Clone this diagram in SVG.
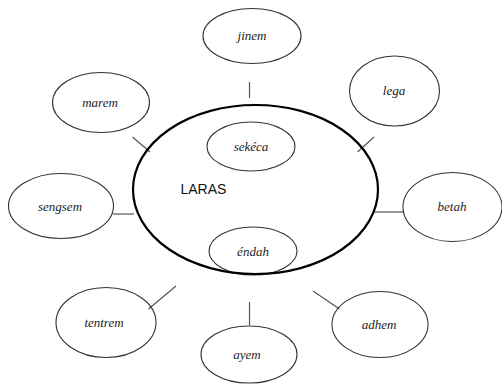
<svg xmlns="http://www.w3.org/2000/svg" width="502" height="385" viewBox="0 0 502 385">
<style>
.n{fill:none;stroke:#333;stroke-width:1.1}
.c{stroke:#555;stroke-width:1.2;fill:none}
.t{font-family:"Liberation Serif",serif;font-style:italic;font-size:13px;fill:#222;text-anchor:middle}
.big{fill:none;stroke:#000;stroke-width:2.2}
.lbl{font-family:"Liberation Sans",Arial,sans-serif;font-size:14px;fill:#111}
</style>
<rect width="502" height="385" fill="#fff"/>
<g id="connectors">
<line class="c" x1="249.5" y1="82" x2="249.5" y2="98"/>
<line class="c" x1="357.5" y1="152" x2="374" y2="137"/>
<line class="c" x1="132.5" y1="137" x2="150" y2="152"/>
<line class="c" x1="113" y1="214" x2="134" y2="214"/>
<line class="c" x1="374" y1="212" x2="404" y2="212"/>
<line class="c" x1="313" y1="291" x2="339.5" y2="309"/>
<line class="c" x1="176" y1="286" x2="148.5" y2="309"/>
<line class="c" x1="249.5" y1="302" x2="249.5" y2="325"/>
</g>
<g id="jinem"><ellipse class="n" cx="252" cy="36" rx="49" ry="27.5"/><text class="t" x="252" y="40">jinem</text></g>
<g id="lega"><ellipse class="n" cx="394.5" cy="91" rx="45" ry="35"/><text class="t" x="394" y="95">lega</text></g>
<g id="marem"><ellipse class="n" cx="101" cy="102.5" rx="48.5" ry="30"/><text class="t" x="100" y="106.5">marem</text></g>
<g id="sengsem"><ellipse class="n" cx="61" cy="206" rx="52.5" ry="32.5"/><text class="t" x="60" y="211">sengsem</text></g>
<g id="betah"><ellipse class="n" cx="452.5" cy="207" rx="49.5" ry="34.5"/><text class="t" x="452" y="211">betah</text></g>
<g id="tentrem"><ellipse class="n" cx="106" cy="322.5" rx="50" ry="35"/><text class="t" x="104" y="326.5">tentrem</text></g>
<g id="adhem"><ellipse class="n" cx="380" cy="324.5" rx="48" ry="33"/><text class="t" x="379" y="329">adhem</text></g>
<g id="ayem"><ellipse class="n" cx="249" cy="354.5" rx="48" ry="28.5"/><text class="t" x="247" y="359">ayem</text></g>
<g id="sekeca"><ellipse class="n" cx="251" cy="146.5" rx="44" ry="24.5"/><text class="t" x="251" y="150.5">sekéca</text></g>
<g id="endah"><ellipse class="n" cx="253" cy="251" rx="44" ry="24"/><text class="t" x="253" y="256">éndah</text></g>
<g id="laras"><ellipse class="big" cx="255.5" cy="189.5" rx="122.5" ry="84.5"/><text class="lbl" x="180.5" y="194">LARAS</text></g>
</svg>
